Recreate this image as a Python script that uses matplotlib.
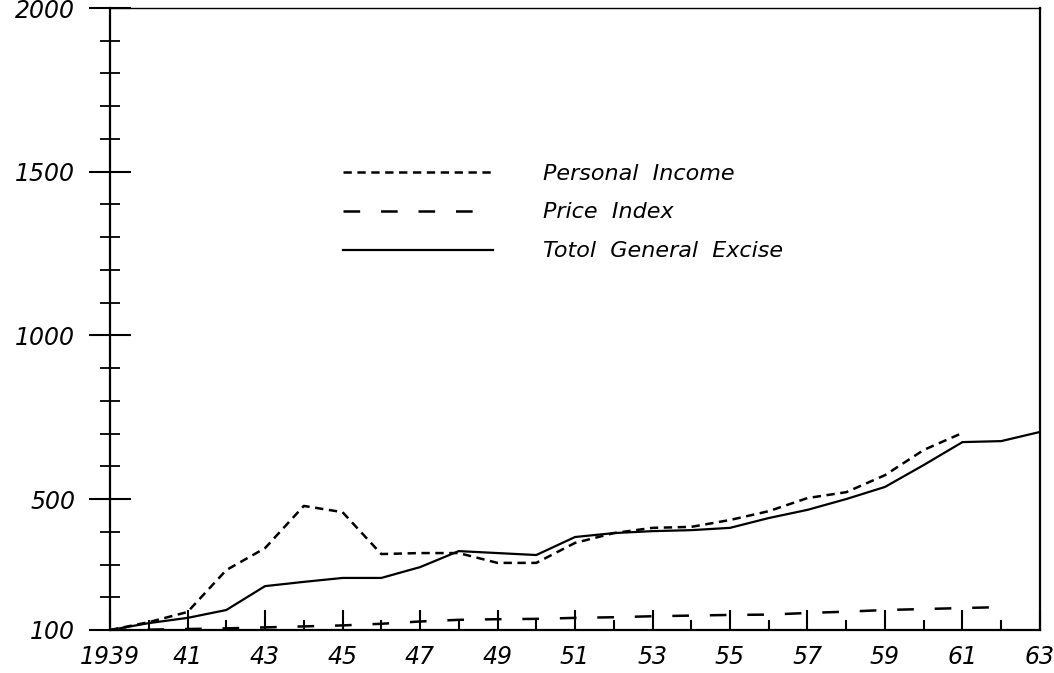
import numpy as np
import matplotlib.pyplot as plt
from matplotlib.ticker import FixedLocator

plt.rcParams['lines.scale_dashes'] = False

years = np.arange(1939, 1964)
excise = [100, 121, 137, 161, 234, 247, 259, 259, 292, 341, 335, 329, 384,
          396, 402, 405, 412, 442, 467, 500, 537, 604, 674, 677, 705]
income_years = np.arange(1939, 1962)
income = [100, 124, 155, 283, 350, 479, 460, 332, 335, 335, 305, 305, 366,
          396, 412, 415, 436, 463, 503, 521, 573, 650, 702]
price_years = np.arange(1939, 1963)
price = [100, 101, 103, 105, 108, 111, 114, 119, 126, 131, 133, 134, 137,
         139, 142, 144, 146, 147, 152, 156, 161, 164, 167, 170]

xlabels = ['1939', '41', '43', '45', '47', '49', '51', '53', '55', '57', '59', '61', '63']
ymajor = [100, 500, 1000, 1500, 2000]
ylabels = ['100', '500', '1000', '1500', '2000']

fig = plt.figure(figsize=(10.54, 6.73), dpi=100)
ax = fig.add_axes([0.1044, 0.0639, 0.8823, 0.9242])

ax.plot(income_years, income, color='black', lw=1.8, dashes=(6, 4),
        label='Personal  Income')
ax.plot(price_years, price, color='black', lw=1.8, dashes=(12, 15),
        label='Price  Index')
ax.plot(years, excise, color='black', lw=1.6, label='Totol  General  Excise')

ax.set_xlim(1939, 1963)
ax.set_ylim(100, 2000)

for s in ax.spines.values():
    s.set_linewidth(1.6)
ax.spines['top'].set_linewidth(1.0)

# x ticks: tall at odd years, short at even years, pointing up
ax.xaxis.set_major_locator(FixedLocator(np.arange(1939, 1964, 2)))
ax.xaxis.set_minor_locator(FixedLocator(np.arange(1940, 1963, 2)))
ax.set_xticklabels(xlabels, fontsize=17, fontstyle='italic')
ax.tick_params(axis='x', which='major', direction='in', length=14.5, width=1.5, pad=11)
ax.tick_params(axis='x', which='minor', direction='in', length=7.5, width=1.5)

# y ticks crossing the axis
ax.yaxis.set_major_locator(FixedLocator(ymajor))
ax.yaxis.set_minor_locator(FixedLocator([v for v in range(200, 2000, 100) if v not in ymajor]))
ax.set_yticklabels(ylabels, fontsize=17, fontstyle='italic')
ax.tick_params(axis='y', which='major', direction='inout', length=30, width=1.5, pad=10)
ax.tick_params(axis='y', which='minor', direction='inout', length=14, width=1.3)

leg = ax.legend(loc='upper left', bbox_to_anchor=(0.2505, 0.750), frameon=False,
                fontsize=16, handlelength=6.75, handletextpad=2.25, labelspacing=0.85,
                borderpad=0, borderaxespad=0)
for t in leg.get_texts():
    t.set_fontstyle('italic')

fig.savefig('out.png', dpi=100, facecolor='white')
